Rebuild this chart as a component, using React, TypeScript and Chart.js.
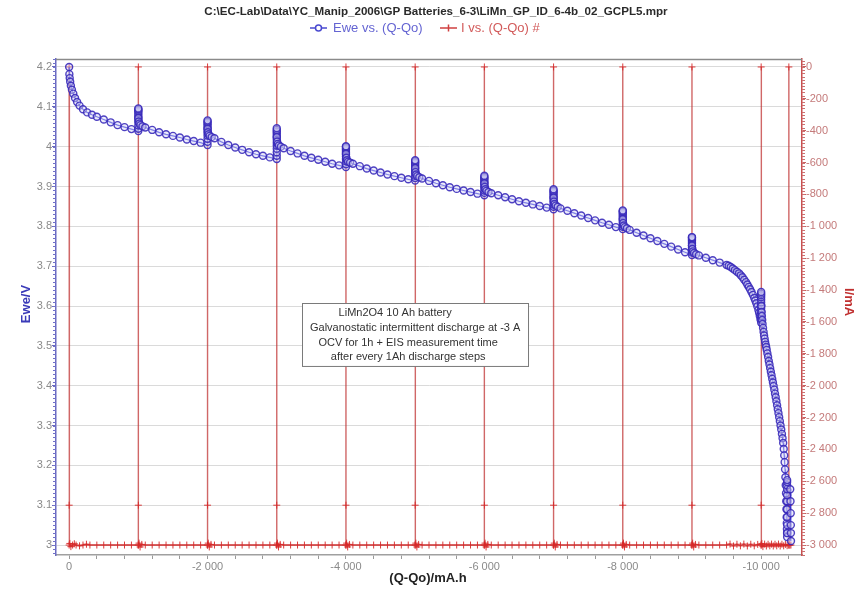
import React, { useEffect, useRef } from "react";
import { Chart, registerables } from "chart.js";

Chart.register(...registerables);

const FONT = '"Liberation Sans", Arial, sans-serif';

const chartTitle =
  "C:\\EC-Lab\\Data\\YC_Manip_2006\\GP Batteries_6-3\\LiMn_GP_ID_6-4b_02_GCPL5.mpr";
const eweLabel = "Ewe vs. (Q-Qo)";
const curLabel = "I vs. (Q-Qo) #";
const xTitle = "(Q-Qo)/mA.h";
const yTitle = "Ewe/V";
const y1Title = "I/mA";
const noteLines = [
  "LiMn2O4 10 Ah battery",
  "Galvanostatic intermittent discharge at -3 A",
  "OCV for 1h + EIS measurement time",
  "after every 1Ah discharge steps",
];

// tick values
const qLabelTicks = [0, -2000, -4000, -6000, -8000, -10000];
const qTickMarks = [
  0, -400, -800, -1200, -1600, -2000, -2400, -2800, -3200, -3600, -4000, -4400, -4800,
  -5200, -5600, -6000, -6400, -6800, -7200, -7600, -8000, -8400, -8800, -9200, -9600,
  -10000, -10400,
];
const eweTicks = [3, 3.1, 3.2, 3.3, 3.4, 3.5, 3.6, 3.7, 3.8, 3.9, 4, 4.1, 4.2];
const iTicks = [
  0, -200, -400, -600, -800, -1000, -1200, -1400, -1600, -1800, -2000, -2200, -2400,
  -2600, -2800, -3000,
];

// Ewe vs (Q-Qo): Q in mA.h, Ewe in V
const eweQ = [
  // step 1 discharge
  0, -3, -8, -15, -25, -40, -60, -85, -115, -150, -200, -260, -330, -400, -500, -600, -700, -800, -900, -1000,
  // rest 1
  -1000, -1000, -1000, -1000, -1000, -1000, -1000, -1000, -1000, -1000, -1000,
  // step 2
  -1000, -1005, -1015, -1030, -1060, -1100, -1200, -1300, -1400, -1500, -1600, -1700, -1800, -1900, -2000,
  -2000, -2000, -2000, -2000, -2000, -2000, -2000, -2000, -2000, -2000, -2000,
  // step 3
  -2000, -2005, -2015, -2030, -2060, -2100, -2200, -2300, -2400, -2500, -2600, -2700, -2800, -2900, -3000,
  -3000, -3000, -3000, -3000, -3000, -3000, -3000, -3000, -3000, -3000, -3000, -3000,
  // step 4
  -3000, -3005, -3015, -3030, -3060, -3100, -3200, -3300, -3400, -3500, -3600, -3700, -3800, -3900, -4000,
  -4000, -4000, -4000, -4000, -4000, -4000, -4000, -4000, -4000, -4000, -4000,
  // step 5
  -4000, -4005, -4015, -4030, -4060, -4100, -4200, -4300, -4400, -4500, -4600, -4700, -4800, -4900, -5000,
  -5000, -5000, -5000, -5000, -5000, -5000, -5000, -5000, -5000, -5000, -5000,
  // step 6
  -5000, -5005, -5015, -5030, -5060, -5100, -5200, -5300, -5400, -5500, -5600, -5700, -5800, -5900, -6000,
  -6000, -6000, -6000, -6000, -6000, -6000, -6000, -6000, -6000, -6000, -6000,
  // step 7
  -6000, -6005, -6015, -6030, -6060, -6100, -6200, -6300, -6400, -6500, -6600, -6700, -6800, -6900, -7000,
  -7000, -7000, -7000, -7000, -7000, -7000, -7000, -7000, -7000, -7000, -7000,
  // step 8
  -7000, -7005, -7015, -7030, -7060, -7100, -7200, -7300, -7400, -7500, -7600, -7700, -7800, -7900, -8000,
  -8000, -8000, -8000, -8000, -8000, -8000, -8000, -8000, -8000, -8000, -8000,
  // step 9
  -8000, -8005, -8015, -8030, -8060, -8100, -8200, -8300, -8400, -8500, -8600, -8700, -8800, -8900, -9000,
  -9000, -9000, -9000, -9000, -9000, -9000, -9000, -9000, -9000, -9000, -9000,
  // step 10
  -9000, -9005, -9015, -9030, -9060, -9100, -9200, -9300, -9400, -9500,
  -9530, -9560, -9590, -9620, -9650, -9680, -9705, -9730, -9755, -9780,
  -9800, -9820, -9840, -9860, -9880, -9900, -9915, -9930, -9945, -9960,
  -9970, -9980, -9990, -10000,
  -10000, -10000, -10000, -10000, -10000, -10000, -10000, -10000, -10000, -10000, -10000,
  // step 11
  -10003, -10007, -10010, -10015, -10020, -10027, -10035, -10042, -10050, -10057,
  -10065, -10072, -10080, -10090, -10100, -10110, -10120, -10130, -10140, -10150,
  -10160, -10170, -10180, -10190, -10200, -10210, -10220, -10230, -10240, -10250,
  -10260, -10270, -10280, -10290, -10300, -10309, -10318, -10326, -10333, -10339,
  -10345, -10350, -10355, -10359, -10362, -10365, -10368, -10370, -10372, -10374,
  -10375,
  -10375, -10375, -10375, -10375, -10375, -10375, -10375, -10375, -10375, -10375,
  -10420, -10424, -10427, -10429, -10430, -10431,
];
const eweV = [
  4.2, 4.182, 4.172, 4.163, 4.153, 4.143, 4.133, 4.122, 4.112, 4.103, 4.094, 4.086, 4.08, 4.075, 4.068, 4.061, 4.054, 4.049, 4.044, 4.039,
  4.045, 4.053, 4.061, 4.068, 4.074, 4.079, 4.084, 4.088, 4.091, 4.094, 4.096,
  4.072, 4.063, 4.058, 4.054, 4.051, 4.048, 4.042, 4.036, 4.031, 4.027, 4.023, 4.018, 4.014, 4.01, 4.004,
  4.012, 4.02, 4.028, 4.035, 4.041, 4.047, 4.052, 4.056, 4.06, 4.063, 4.066,
  4.045, 4.036, 4.031, 4.027, 4.024, 4.021, 4.012, 4.004, 3.998, 3.992, 3.986, 3.981, 3.977, 3.973, 3.969,
  3.977, 3.986, 3.995, 4.003, 4.01, 4.017, 4.023, 4.029, 4.034, 4.038, 4.042, 4.046,
  4.024, 4.013, 4.007, 4.003, 4.0, 3.996, 3.989, 3.983, 3.977, 3.972, 3.967, 3.962, 3.957, 3.953, 3.949,
  3.956, 3.963, 3.969, 3.975, 3.98, 3.985, 3.989, 3.993, 3.996, 3.999, 4.001,
  3.982, 3.972, 3.966, 3.962, 3.96, 3.957, 3.951, 3.945, 3.94, 3.935, 3.93, 3.926, 3.922, 3.918, 3.915,
  3.921, 3.927, 3.933, 3.939, 3.944, 3.949, 3.953, 3.957, 3.96, 3.963, 3.966,
  3.946, 3.936, 3.93, 3.926, 3.923, 3.92, 3.914, 3.908, 3.903, 3.898, 3.894, 3.89, 3.886, 3.882, 3.878,
  3.884, 3.89, 3.896, 3.901, 3.906, 3.91, 3.914, 3.918, 3.921, 3.924, 3.927,
  3.908, 3.899, 3.893, 3.889, 3.886, 3.883, 3.878, 3.873, 3.868, 3.863, 3.859, 3.855, 3.851, 3.847, 3.843,
  3.849, 3.855, 3.861, 3.866, 3.871, 3.876, 3.88, 3.884, 3.887, 3.89, 3.893,
  3.872, 3.862, 3.856, 3.852, 3.849, 3.845, 3.839, 3.833, 3.827, 3.821, 3.815, 3.809, 3.804, 3.798, 3.793,
  3.799, 3.805, 3.811, 3.816, 3.821, 3.825, 3.829, 3.833, 3.836, 3.838, 3.84,
  3.818, 3.808, 3.802, 3.798, 3.795, 3.791, 3.784, 3.777, 3.77, 3.763, 3.756, 3.749, 3.742, 3.735, 3.728,
  3.734, 3.74, 3.746, 3.751, 3.756, 3.76, 3.764, 3.767, 3.77, 3.772, 3.773,
  3.752, 3.743, 3.737, 3.733, 3.73, 3.727, 3.721, 3.715, 3.709, 3.703,
  3.701, 3.698, 3.694, 3.69, 3.686, 3.682, 3.677, 3.672, 3.666, 3.66,
  3.654, 3.648, 3.642, 3.635, 3.628, 3.62, 3.614, 3.607, 3.599, 3.59,
  3.583, 3.575, 3.566, 3.558,
  3.567, 3.576, 3.585, 3.594, 3.602, 3.609, 3.616, 3.622, 3.627, 3.631, 3.635,
  3.6, 3.585, 3.575, 3.565, 3.555, 3.545, 3.535, 3.526, 3.518, 3.51,
  3.503, 3.497, 3.49, 3.481, 3.472, 3.462, 3.453, 3.444, 3.435, 3.426,
  3.417, 3.408, 3.399, 3.39, 3.38, 3.371, 3.361, 3.351, 3.341, 3.331,
  3.321, 3.311, 3.3, 3.29, 3.279, 3.268, 3.256, 3.241, 3.225, 3.208,
  3.19, 3.17, 3.15, 3.13, 3.11, 3.09, 3.07, 3.055, 3.04, 3.03,
  3.02,
  3.03, 3.05, 3.07, 3.09, 3.11, 3.125, 3.14, 3.15, 3.158, 3.163,
  3.14, 3.11, 3.08, 3.05, 3.03, 3.01,
];

// I vs (Q-Qo): Q in mA.h, I in mA
const curQ = [
  0, 0, 0, -10, -25, -50, -75, -100, -150, -200, -250, -300, -400, -500, -600, -700, -800, -900,
  -1000, -1000, -1000, -1000, -1010, -1025, -1050, -1100, -1200, -1300, -1400, -1500, -1600, -1700, -1800, -1900,
  -2000, -2000, -2000, -2000, -2010, -2025, -2050, -2100, -2200, -2300, -2400, -2500, -2600, -2700, -2800, -2900,
  -3000, -3000, -3000, -3000, -3010, -3025, -3050, -3100, -3200, -3300, -3400, -3500, -3600, -3700, -3800, -3900,
  -4000, -4000, -4000, -4000, -4010, -4025, -4050, -4100, -4200, -4300, -4400, -4500, -4600, -4700, -4800, -4900,
  -5000, -5000, -5000, -5000, -5010, -5025, -5050, -5100, -5200, -5300, -5400, -5500, -5600, -5700, -5800, -5900,
  -6000, -6000, -6000, -6000, -6010, -6025, -6050, -6100, -6200, -6300, -6400, -6500, -6600, -6700, -6800, -6900,
  -7000, -7000, -7000, -7000, -7010, -7025, -7050, -7100, -7200, -7300, -7400, -7500, -7600, -7700, -7800, -7900,
  -8000, -8000, -8000, -8000, -8010, -8025, -8050, -8100, -8200, -8300, -8400, -8500, -8600, -8700, -8800, -8900,
  -9000, -9000, -9000, -9000, -9010, -9025, -9050, -9100, -9200, -9300, -9400, -9500, -9550, -9600, -9650, -9700,
  -9750, -9800, -9850, -9900, -9950,
  -10000, -10000, -10000, -10000, -10010, -10025, -10050, -10075, -10100, -10125, -10150, -10175, -10200, -10225,
  -10250, -10275, -10300, -10325, -10350, -10375,
  -10400, -10400, -10400, -10400, -10415, -10430,
];
const curI = [
  0, -2750, -3000, -2990, -3010, -3000, -2992, -3000, -3005, -3000, -2995, -3000, -3000, -3000, -3000, -3000, -3000, -3000,
  -3000, 0, -2750, -3000, -2988, -3012, -2996, -3000, -3000, -3000, -3000, -3000, -3000, -3000, -3000, -3000,
  -3000, 0, -2750, -3000, -2988, -3012, -2996, -3000, -3000, -3000, -3000, -3000, -3000, -3000, -3000, -3000,
  -3000, 0, -2750, -3000, -2988, -3012, -2996, -3000, -3000, -3000, -3000, -3000, -3000, -3000, -3000, -3000,
  -3000, 0, -2750, -3000, -2988, -3012, -2996, -3000, -3000, -3000, -3000, -3000, -3000, -3000, -3000, -3000,
  -3000, 0, -2750, -3000, -2988, -3012, -2996, -3000, -3000, -3000, -3000, -3000, -3000, -3000, -3000, -3000,
  -3000, 0, -2750, -3000, -2988, -3012, -2996, -3000, -3000, -3000, -3000, -3000, -3000, -3000, -3000, -3000,
  -3000, 0, -2750, -3000, -2988, -3012, -2996, -3000, -3000, -3000, -3000, -3000, -3000, -3000, -3000, -3000,
  -3000, 0, -2750, -3000, -2988, -3012, -2996, -3000, -3000, -3000, -3000, -3000, -3000, -3000, -3000, -3000,
  -3000, 0, -2750, -3000, -2988, -3012, -2996, -3000, -3000, -3000, -3000, -3000, -2994, -3006, -2995, -3005,
  -2994, -3006, -2995, -3005, -2996,
  -3000, 0, -2750, -3000, -2990, -3010, -2994, -3006, -2995, -3005, -2994, -3006, -2995, -3005,
  -2994, -3006, -2995, -3005, -2996, -3004,
  -3000, 0, -2750, -3000, -3000, -3000,
];

const fmtNum = (v: number) => {
  const s = Math.abs(v)
    .toString()
    .replace(/\B(?=(\d{3})+(?!\d))/g, " ");
  return v < 0 ? "-" + s : s;
};

const decorPlugin = {
  id: "decor",
  afterDatasetsDraw(chart: any) {
    const { ctx, scales } = chart;
    const x = scales.x;
    const y = scales.y;
    // annotation box (anchored in data coordinates)
    const x0 = x.getPixelForValue(-3367);
    const x1 = x.getPixelForValue(-6633);
    const y0 = y.getPixelForValue(3.607);
    const y1 = y.getPixelForValue(3.449);
    ctx.save();
    ctx.fillStyle = "#ffffff";
    ctx.fillRect(x0, y0, x1 - x0, y1 - y0);
    ctx.strokeStyle = "#7a7a7a";
    ctx.lineWidth = 1;
    ctx.strokeRect(Math.round(x0) + 0.5, Math.round(y0) + 0.5, x1 - x0, y1 - y0);
    ctx.fillStyle = "#333333";
    ctx.font = `11px ${FONT}`;
    ctx.textAlign = "center";
    ctx.textBaseline = "middle";
    const cx = (x0 + x1) / 2;
    const offs = [-20, 0, -7, -7];
    noteLines.forEach((t, i) => {
      ctx.fillText(t, cx + offs[i], y0 + 10 + i * 14.7);
    });
    ctx.restore();
  },
  afterDraw(chart: any) {
    const { ctx, chartArea, scales } = chart;
    const { left, right, top } = chartArea;
    ctx.save();
    // top frame
    ctx.strokeStyle = "#8a8a8a";
    ctx.lineWidth = 1.5;
    ctx.beginPath();
    ctx.moveTo(left, top + 0.5);
    ctx.lineTo(right, top + 0.5);
    ctx.stroke();

    // minor ticks left axis
    ctx.lineWidth = 1;
    ctx.strokeStyle = "#7070c8";
    const y = scales.y;
    for (let i = 298; i <= 422; i++) {
      const py = Math.round(y.getPixelForValue(i / 100)) + 0.5;
      ctx.beginPath();
      ctx.moveTo(left - 3, py);
      ctx.lineTo(left, py);
      ctx.stroke();
    }
    // minor ticks right axis
    ctx.strokeStyle = "#cc7070";
    const y1 = scales.y1;
    for (let v = -3060; v <= 40; v += 20) {
      const py = Math.round(y1.getPixelForValue(v)) + 0.5;
      ctx.beginPath();
      ctx.moveTo(right, py);
      ctx.lineTo(right + 3, py);
      ctx.stroke();
    }

    // title
    ctx.fillStyle = "#2a2a2a";
    ctx.font = `bold 11.6px ${FONT}`;
    ctx.textAlign = "center";
    ctx.textBaseline = "middle";
    ctx.fillText(chartTitle, 436, 12);

    // legend
    ctx.font = `13px ${FONT}`;
    ctx.textAlign = "left";
    const ly = 28;
    ctx.strokeStyle = "#4a4ad0";
    ctx.lineWidth = 1.5;
    ctx.beginPath();
    ctx.moveTo(310, ly);
    ctx.lineTo(327, ly);
    ctx.stroke();
    ctx.fillStyle = "#ffffff";
    ctx.beginPath();
    ctx.arc(318.5, ly, 3, 0, Math.PI * 2);
    ctx.fill();
    ctx.stroke();
    ctx.fillStyle = "#6464d2";
    ctx.fillText(eweLabel, 333, ly);
    ctx.strokeStyle = "#d04040";
    ctx.beginPath();
    ctx.moveTo(440, ly);
    ctx.lineTo(457, ly);
    ctx.moveTo(448.5, ly - 3.5);
    ctx.lineTo(448.5, ly + 3.5);
    ctx.stroke();
    ctx.fillStyle = "#d25a5a";
    ctx.fillText(curLabel, 461, ly);

    // axis titles
    ctx.font = `bold 13px ${FONT}`;
    ctx.textAlign = "center";
    ctx.fillStyle = "#222222";
    ctx.fillText(xTitle, 428, 578);

    ctx.save();
    ctx.translate(26, 304);
    ctx.rotate(-Math.PI / 2);
    ctx.fillStyle = "#3a3ab8";
    ctx.fillText(yTitle, 0, 0);
    ctx.restore();

    ctx.save();
    ctx.translate(849, 302);
    ctx.rotate(Math.PI / 2);
    ctx.fillStyle = "#c03030";
    ctx.fillText(y1Title, 0, 0);
    ctx.restore();

    ctx.restore();
  },
};

export default function App() {
  const ref = useRef<HTMLCanvasElement>(null);
  useEffect(() => {
    const canvas = ref.current;
    if (!canvas) return;
    const eweData = eweQ.map((q, i) => ({ x: q, y: eweV[i] }));
    const curData = curQ.map((q, i) => ({ x: q, y: curI[i] }));
    const chart = new Chart(canvas, {
      type: "line",
      data: {
        datasets: [
          {
            label: eweLabel,
            data: eweData,
            yAxisID: "y",
            borderColor: "rgba(40,40,215,0.9)",
            borderWidth: 1.2,
            pointStyle: "circle",
            pointRadius: 3.5,
            pointBorderWidth: 1.4,
            pointBorderColor: "rgba(55,40,185,0.88)",
            pointBackgroundColor: "rgba(210,210,245,0.45)",
            tension: 0,
            order: 0,
          },
          {
            label: curLabel,
            data: curData,
            yAxisID: "y1",
            borderColor: "rgba(190,45,45,0.72)",
            borderWidth: 1.4,
            pointStyle: "cross",
            pointRadius: 3.5,
            pointBorderWidth: 1,
            pointBorderColor: "rgba(215,40,40,0.9)",
            tension: 0,
            order: 1,
          },
        ],
      },
      options: {
        responsive: false,
        animation: false,
        devicePixelRatio: 1,
        layout: { padding: { top: 59, left: 0, right: 0, bottom: 0 } },
        plugins: {
          legend: { display: false },
          title: { display: false },
          tooltip: { enabled: false },
        },
        events: [],
        scales: {
          x: {
            type: "linear",
            position: "bottom",
            reverse: true,
            min: -10590,
            max: 190,
            afterBuildTicks: (s: any) => {
              s.ticks = qTickMarks.map((v) => ({ value: v }));
            },
            afterFit: (s: any) => {
              s.height = 35;
            },
            ticks: {
              autoSkip: false,
              maxRotation: 0,
              minRotation: 0,
              padding: 1,
              color: "#8a8a8a",
              font: { family: FONT, size: 11 },
              callback: (v: any) => (qLabelTicks.includes(v) ? fmtNum(v) : ""),
            },
            grid: { drawOnChartArea: false, tickLength: 4, tickColor: "#9a9a9a" },
            border: { color: "#a0a0a0", width: 1.5 },
          },
          y: {
            type: "linear",
            position: "left",
            min: 2.975,
            max: 4.22,
            afterBuildTicks: (s: any) => {
              s.ticks = eweTicks.map((v) => ({ value: v }));
            },
            afterFit: (s: any) => {
              s.width = 56;
            },
            ticks: {
              padding: 0,
              color: "#8a8a8a",
              font: { family: FONT, size: 11 },
              callback: (v: any) => String(v),
            },
            grid: { color: "#dadada", tickLength: 4, tickColor: "#6b6bc0" },
            border: { color: "#6b6bc0", width: 1.5 },
          },
          y1: {
            type: "linear",
            position: "right",
            min: -3062.5,
            max: 50,
            afterBuildTicks: (s: any) => {
              s.ticks = iTicks.map((v) => ({ value: v }));
            },
            afterFit: (s: any) => {
              s.width = 63;
            },
            ticks: {
              padding: 0,
              color: "#c47a7a",
              font: { family: FONT, size: 11 },
              callback: (v: any) => fmtNum(v),
            },
            grid: { drawOnChartArea: false, tickLength: 4, tickColor: "#c86060" },
            border: { color: "#c85050", width: 1.5 },
          },
        },
      },
      plugins: [decorPlugin],
    } as any);
    return () => chart.destroy();
  }, []);
  return (
    <div style={{ position: "absolute", left: 0, top: 0, width: 865, height: 590, background: "#fff" }}>
      <canvas ref={ref} width={865} height={590} style={{ display: "block" }} />
    </div>
  );
}
